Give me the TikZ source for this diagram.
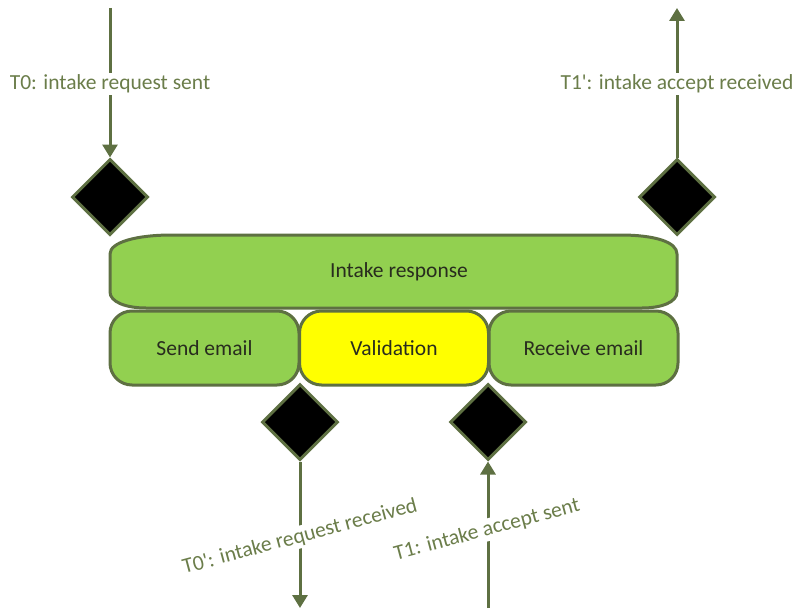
\documentclass[tikz,border=0pt]{standalone}
\usepackage{fontspec}
\setmainfont{Carlito}
\usetikzlibrary{shapes.geometric,arrows.meta}
\definecolor{linec}{RGB}{94,112,66}
\definecolor{lblc}{RGB}{107,125,74}
\definecolor{boxgreen}{RGB}{146,208,80}
\definecolor{boxyellow}{RGB}{255,255,0}
\definecolor{txtc}{RGB}{40,44,30}
\tikzset{
  x=1pt, y=-1pt,
  gate/.style={diamond, draw=linec, line width=3pt, fill=black, minimum width=76pt, minimum height=76pt, inner sep=0pt},
  taskbox/.style={draw=linec, line width=3pt, rounded corners=22pt, minimum width=189pt, minimum height=74pt, inner sep=0pt, font=\fontsize{21.5}{25}\selectfont, text=txtc},
  flow/.style={draw=linec, line width=3pt, -{Triangle[width=15pt,length=13pt]}},
  lbl/.style={fill=white, text=lblc, inner sep=2pt, font=\fontsize{21.5}{25}\selectfont},
}
\begin{document}
\begin{tikzpicture}
\useasboundingbox (0,0) rectangle (795,610);
% Intake response shape
\path[fill=boxgreen, draw=linec, line width=3pt]
  (172,235) -- (620,235) .. controls (655,235) and (677,242) .. (677,254)
  -- (677,292) .. controls (677,302) and (662,308) .. (642,308)
  -- (146,308) .. controls (126,308) and (110,302) .. (110,292)
  -- (110,254) .. controls (110,242) and (137,235) .. (172,235) -- cycle;
\node[text=txtc, font=\fontsize{21.5}{25}\selectfont] (intake) at (399,272) {Intake response};
% sub tasks
\node[taskbox, fill=boxgreen] (send) at (204.5,348) {Send email};
\node[taskbox, fill=boxgreen] (recv) at (583.5,348) {Receive email};
\node[taskbox, fill=boxyellow] (valid) at (394,348) {Validation};
% gates
\node[gate] (g1) at (110,197) {};
\node[gate] (g2) at (677,197) {};
\node[gate] (g3) at (300,422) {};
\node[gate] (g4) at (488,422) {};
% end coordinates
\coordinate (s1) at (110,8);
\coordinate (e2) at (677,8);
\coordinate (e3) at (300,608);
\coordinate (s4) at (488,608);
% flows
\draw[flow] (s1) -- (g1.north);
\draw[flow] (g2.north) -- (e2);
\draw[flow] (g3.south) -- (e3);
\draw[flow] (s4) -- (g4.south);
% labels
\node[lbl] (l1) at (110,84) {T0: intake request sent};
\node[lbl] (l2) at (677,84) {T1\textquotesingle: intake accept received};
\node[lbl, rotate=15] (l3) at (300,537) {T0\textquotesingle: intake request received};
\node[lbl, rotate=15] (l4) at (487,530) {T1: intake accept sent};
\end{tikzpicture}
\end{document}
